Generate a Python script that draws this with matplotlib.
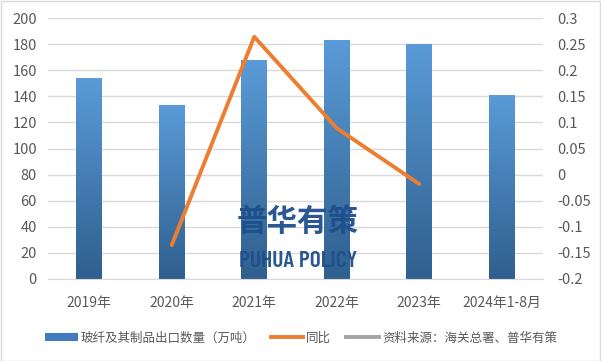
import matplotlib
matplotlib.use("Agg")
import matplotlib.pyplot as plt
import numpy as np
from matplotlib.lines import Line2D
from matplotlib.patches import Patch, Rectangle
from matplotlib.colors import LinearSegmentedColormap

plt.rcParams['font.family'] = ['Noto Sans CJK SC', 'DejaVu Sans']

categories = ["2019年", "2020年", "2021年", "2022年", "2023年", "2024年1-8月"]
export_qty = [154, 133, 168, 183, 180, 141]
yoy_x = ["2020年", "2021年", "2022年", "2023年"]
yoy = [-0.135, 0.264, 0.089, -0.018]
left_ticks = [0, 20, 40, 60, 80, 100, 120, 140, 160, 180, 200]
right_ticks = [-0.2, -0.15, -0.1, -0.05, 0, 0.05, 0.1, 0.15, 0.2, 0.25, 0.3]
right_labels = ["-0.2", "-0.15", "-0.1", "-0.05", "0", "0.05", "0.1", "0.15", "0.2", "0.25", "0.3"]

W, H = 601, 361
fig = plt.figure(figsize=(W / 100, H / 100), dpi=100)
ax = fig.add_axes([48 / W, 1 - 279 / H, (543 - 48) / W, (279 - 18) / H])

tick_color = "#595959"
x = np.arange(len(categories))
bars = ax.bar(x, export_qty, width=0.31, color="none", zorder=2)
cmap = LinearSegmentedColormap.from_list("g", ["#2F5F8E", "#5A9BD8"])
grad = np.linspace(0, 1, 256).reshape(-1, 1)
for b in bars:
    x0, w, h = b.get_x(), b.get_width(), b.get_height()
    im = ax.imshow(grad, cmap=cmap, aspect="auto", origin="lower",
                   extent=[x0, x0 + w, 0, h], zorder=2)
    im.set_clip_path(b)

ax.set_xlim(-0.5, len(categories) - 0.5)
ax.set_ylim(0, 200)
ax.set_yticks(left_ticks)
ax.set_xticks(x)
ax.set_xticklabels(categories)
ax.grid(axis="y", color="#D9D9D9", linewidth=1, zorder=0)
ax.set_axisbelow(True)
for s in ["top", "right", "left"]:
    ax.spines[s].set_visible(False)
ax.spines["bottom"].set_color("#D9D9D9")
ax.tick_params(axis="both", length=0, colors=tick_color, labelsize=10.5)
ax.tick_params(axis="x", pad=12, labelsize=10)
ax.tick_params(axis="y", pad=8)

ax2 = ax.twinx()
ax2.set_ylim(-0.2, 0.3)
ax2.set_yticks(right_ticks)
ax2.set_yticklabels(right_labels)
for s in ax2.spines.values():
    s.set_visible(False)
ax2.tick_params(axis="y", length=0, colors=tick_color, labelsize=10.5, pad=10)
xi = [categories.index(c) for c in yoy_x]
ax2.plot(xi, yoy, color="#ED7D31", linewidth=2.8, solid_capstyle="round", zorder=3)

# watermark
fig.text(298 / W, 1 - 222 / H, "普华有策", fontsize=22, fontweight="bold",
         color="#1F4E8C", ha="center", va="center", alpha=0.95)
fig.text(298 / W, 1 - 261 / H, "PUHUA POLICY", fontsize=17, fontweight=600,
         color="#1F4E8C", ha="center", va="center", alpha=0.95,
         family=["Barlow Condensed", "DejaVu Sans"])

handles = [
    Patch(facecolor="#3F7BBE", edgecolor="none"),
    Line2D([0], [0], color="#ED7D31", linewidth=2.8),
    Line2D([0], [0], color="#A5A5A5", linewidth=2.8),
]
labels = ["玻纤及其制品出口数量（万吨）", "同比", "资料来源：海关总署、普华有策"]
leg = fig.legend(handles, labels, loc="center", bbox_to_anchor=(301 / W, 1 - 338 / H),
                 ncol=3, frameon=False, fontsize=9, handlelength=2.6,
                 handletextpad=0.25, columnspacing=1.2, labelcolor=tick_color,
                 handleheight=0.6, borderpad=0, borderaxespad=0)

fig.patches.append(Rectangle((0.001, 0.001), 0.997, 0.997, transform=fig.transFigure,
                             fill=False, edgecolor="#D9D9D9", linewidth=1))

fig.savefig("out.png", dpi=100, facecolor="white")
